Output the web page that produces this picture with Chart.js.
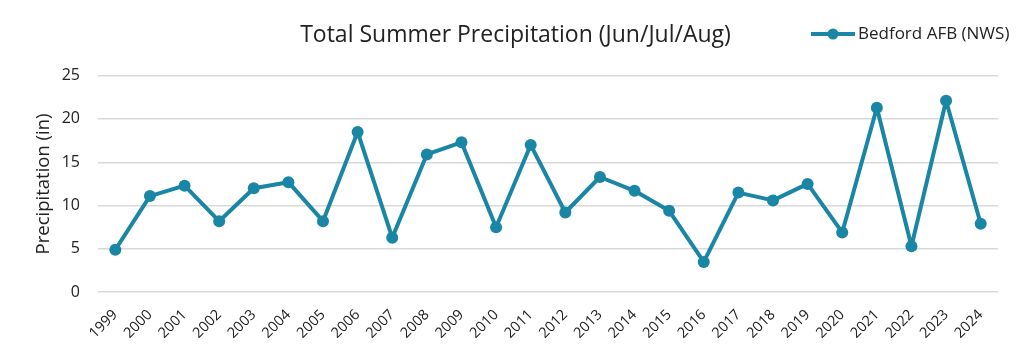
<!DOCTYPE html>
<html>
<head>
<meta charset="utf-8">
<script src="https://cdn.jsdelivr.net/npm/chart.js@4/dist/chart.umd.min.js"></script>
<style>
  html, body { margin: 0; padding: 0; background: #fff; }
  #wrap { width: 1024px; height: 364px; }
</style>
</head>
<body>
<div id="wrap"><canvas id="miGrafica" width="1024" height="364"></canvas></div>
<script>
const anios = ["1999", "2000", "2001", "2002", "2003", "2004", "2005", "2006", "2007", "2008", "2009", "2010", "2011", "2012", "2013", "2014", "2015", "2016", "2017", "2018", "2019", "2020", "2021", "2022", "2023", "2024"]
const precipitacion = [4.9, 11.1, 12.3, 8.2, 12.0, 12.7, 8.2, 18.5, 6.3, 15.9, 17.3, 7.5, 17.0, 9.2, 13.3, 11.7, 9.4, 3.5, 11.5, 10.6, 12.5, 6.9, 21.3, 5.3, 22.1, 7.9]
const ticksY = [0, 5, 10, 15, 20, 25]

const azul = "#1a86a6"
const fuente = "'Open Sans', sans-serif"

// leyenda dibujada a mano, en la misma fila que el titulo
const leyendaPlugin = {
    id: "leyendaDerecha",
    afterDraw(chart) {
        const c = chart.ctx
        const ds = chart.data.datasets[0]
        const y = 34
        c.save()
        c.strokeStyle = azul
        c.lineWidth = 4
        c.beginPath()
        c.moveTo(811, y)
        c.lineTo(855, y)
        c.stroke()
        c.fillStyle = azul
        c.beginPath()
        c.arc(833, y, 5.5, 0, Math.PI * 2)
        c.fill()
        c.fillStyle = "#222"
        c.font = "17px " + fuente
        c.textBaseline = "middle"
        c.fillText(ds.label, 858, y)
        c.restore()
    }
}

const ctx = document.getElementById("miGrafica").getContext("2d")
new Chart(ctx, {
    type: "line",
    data: {
        labels: anios,
        datasets: [
            {
                label: "Bedford AFB (NWS)",
                data: precipitacion,
                borderColor: azul,
                backgroundColor: azul,
                borderWidth: 4,
                borderJoinStyle: "round",
                pointRadius: 6,
                pointBackgroundColor: azul,
                pointBorderWidth: 0,
                tension: 0,
                fill: false
            }
        ]
    },
    options: {
        responsive: false,
        animation: false,
        layout: { padding: { left: 33, right: 26, top: 10, bottom: 16 } },
        plugins: {
            legend: { display: false },
            tooltip: { enabled: false },
            title: {
                display: true,
                text: "Total Summer Precipitation (Jun/Jul/Aug)",
                color: "#222",
                font: { family: fuente, size: 23, weight: "normal" },
                padding: { top: 12, bottom: 26 }
            }
        },
        scales: {
            x: {
                offset: true,
                grid: { display: false },
                border: { display: false },
                ticks: {
                    color: "#1a1a1a",
                    font: { family: fuente, size: 14.5 },
                    minRotation: 45,
                    maxRotation: 45,
                    autoSkip: false,
                    padding: 6
                }
            },
            y: {
                min: 0,
                max: 25,
                afterBuildTicks: (axis) => { axis.ticks = ticksY.map(v => ({ value: v })) },
                afterFit: (axis) => { axis.width = 65 },
                grid: { color: "#d9d9d9", lineWidth: 1.5, drawTicks: false },
                border: { display: false },
                ticks: {
                    color: "#222",
                    font: { family: fuente, size: 16 },
                    padding: 18
                },
                title: {
                    display: true,
                    text: "Precipitation (in)",
                    color: "#222",
                    font: { family: fuente, size: 18.5 },
                    padding: { top: 0, bottom: 0 }
                }
            }
        }
    },
    plugins: [leyendaPlugin]
})
</script>
</body>
</html>
